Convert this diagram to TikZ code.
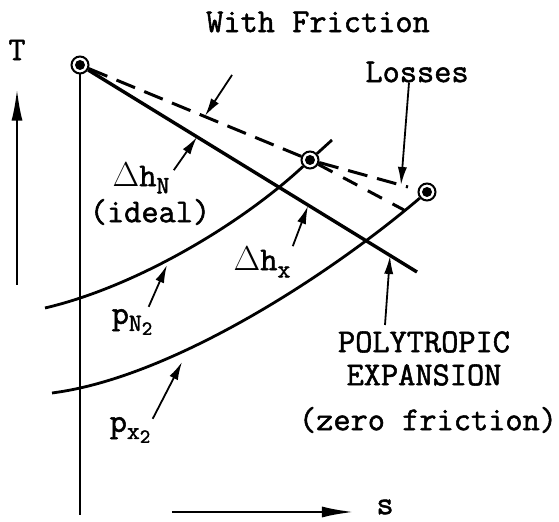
\documentclass[tikz,border=0pt]{standalone}
\usepackage{fontspec}
\newfontfamily\typer{Latin Modern Mono}[FakeBold=1.6]
\usetikzlibrary{arrows.meta}

\newcommand{\lo}[1]{\raisebox{-0.5ex}{\fontsize{12.5}{12}\selectfont #1}}
\newcommand{\llo}[1]{\raisebox{-0.35ex}{\fontsize{10}{10}\selectfont #1}}

\tikzset{
  state/.style={circle,draw,fill=white,line width=1pt,minimum size=8.5pt,inner sep=0pt,
    path picture={\fill[black] (path picture bounding box.center) circle (2.5pt);}},
  lbl/.style={font=\typer\fontsize{16.7}{14}\selectfont,inner sep=0pt},
  ptr/.style={-{Latex[length=9pt,width=4.6pt]},line width=0.9pt},
  axisarrow/.style={-{Latex[length=16pt,width=5.5pt]},line width=1.3pt},
  loss/.style={dash pattern=on 10pt off 5pt,line width=1.5pt}
}

\begin{document}
\begin{tikzpicture}[x=0.5pt,y=-0.5pt]
  \useasboundingbox (0,0) rectangle (559,522);
  % ---------------- states ----------------
  \node[state] (A) at (80,65) {};
  \node[state] (N2) at (310,160) {};
  \node[state] (X) at (427,192) {};
  \coordinate (polyend) at (417,272);
  \coordinate (lossend) at (408,187);
  \coordinate (rotend) at (404,210);
  \coordinate (pNa) at (45,308);
  \coordinate (pNb) at (332,140);
  \coordinate (pXa) at (52,393);
  \coordinate (axisend) at (80,515);
  % ---------------- lines ----------------
  \draw[line width=1pt] (A) -- (axisend);
  \draw[line width=1.7pt] (A) -- (polyend);
  \draw[loss] (A) -- (N2);
  \draw[loss] (N2) -- (lossend);
  \draw[loss,dash pattern=on 8pt off 6pt] (N2) -- (rotend);
  \draw[line width=1.4pt] (pNa) .. controls (135,287) and (240,225) .. (N2);
  \draw[line width=1.4pt] (N2) -- (pNb);
  \draw[line width=1.4pt] (pXa) .. controls (170,378) and (327,277) .. (X);
  % ---------------- labels ----------------
  \node[lbl] (title) at (318,22) {With Friction};
  \node[lbl] (losses) at (417,72) {Losses};
  \node[lbl] (T) at (17,50) {T};
  \node[lbl] (s) at (385,507) {s};
  \node[lbl] (dhN) at (141,178) {$\Delta$h\lo{N}};
  \node[lbl] (ideal) at (150,212) {(ideal)};
  \node[lbl] (dhX) at (262,262) {$\Delta$h\lo{x}};
  \node[lbl] (pN) at (132,322) {p\lo{N\llo{2}}};
  \node[lbl] (pX) at (130,430) {p\lo{x\llo{2}}};
  \node[lbl] (poly) at (424,342) {POLYTROPIC};
  \node[lbl] (expan) at (424,375) {EXPANSION};
  \node[lbl] (zf) at (428,420) {(zero friction)};
  % ---------------- pointers ----------------
  \coordinate (losstip) at (401,185);
  \coordinate (frtail) at (232,75);
  \coordinate (frtip) at (205,116);
  \coordinate (hNtip) at (197,137);
  \coordinate (hXtip) at (308,206);
  \coordinate (pNtip) at (167,265);
  \coordinate (pXtip) at (182,362);
  \coordinate (polytip) at (390,256);
  \coordinate (Ttail) at (17,285);
  \coordinate (stail) at (172,512);
  \draw[ptr] ([xshift=-4pt]losses.south) -- (losstip);
  \draw[ptr] (frtail) -- (frtip);
  \draw[ptr] ([xshift=2pt,yshift=-4pt]dhN.north east) -- (hNtip);
  \draw[ptr] ([xshift=1pt]dhX.north east) -- (hXtip);
  \draw[ptr] ([xshift=-2pt,yshift=1pt]pN.north east) -- (pNtip);
  \draw[ptr] ([xshift=1pt,yshift=-1pt]pX.north east) -- (pXtip);
  \draw[ptr] ([xshift=-19.5pt,yshift=3pt]poly.north) -- (polytip);
  \draw[axisarrow] (Ttail) -- ([yshift=-14pt]T.south);
  \draw[axisarrow] (stail) -- ([xshift=-11pt]s.west |- stail);
\end{tikzpicture}
\end{document}
